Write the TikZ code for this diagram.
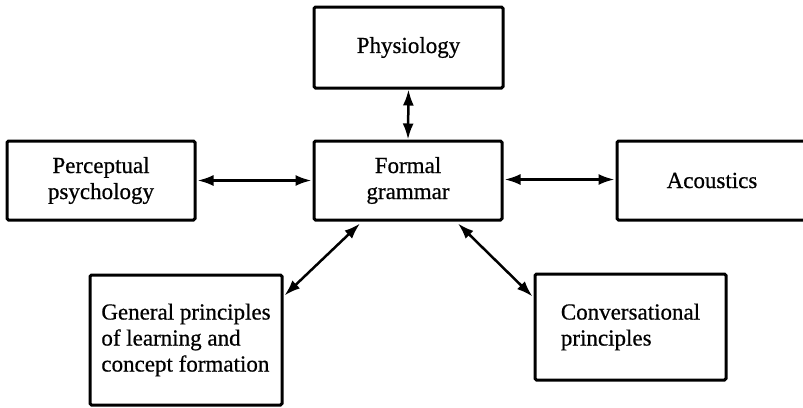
\documentclass[tikz,border=0pt]{standalone}
\usepackage{fontspec}
\setmainfont{Liberation Serif}[FakeBold=0.6]
\usetikzlibrary{arrows.meta,calc}

\tikzset{
  topic/.style={draw=black, line width=3pt, rounded corners=1.5pt,
    inner sep=0pt, fill=white,
    font=\fontsize{23}{26}\selectfont},
  link/.style={line width=2.5pt, {Latex[length=16pt,width=11pt]}-{Latex[length=16pt,width=11pt]}}
}

\begin{document}
\begin{tikzpicture}[x=1pt, y=-1pt]
  \clip (0,0) rectangle (803,407);
  \fill[white] (0,0) rectangle (803,407);

  % boxes
  \node[topic, minimum width=189pt, minimum height=81pt] (phys) at (408.5,47.5) {Physiology};
  \node[topic, minimum width=188pt, minimum height=79pt, align=center] (formal) at (408,180.5) {Formal\\grammar};
  \node[topic, minimum width=188pt, minimum height=79pt, align=center] (percep) at (101,180.5) {Perceptual\\psychology};
  \node[topic, minimum width=190pt, minimum height=79pt] (acoust) at (712,180.5) {Acoustics};
  \node[topic, minimum width=192pt, minimum height=130pt, align=left] (gen) at (186,340) {General principles\\of learning and\\concept formation};
  \node[topic, minimum width=191pt, minimum height=106pt, align=left] (conv) at (630.5,327) {Conversational\\principles};

  % connectors
  \draw[link] (phys.south) -- (formal.north);
  \draw[link] ($(percep.east)+(1,0)$) -- ($(formal.west)+(-1,0)$);
  \draw[link] ($(formal.east)+(1,-1)$) -- ($(acoust.west)+(-1,-1)$);
  \draw[link] ($(formal.south)+(-48,2)$) -- ($(gen.north east)+(1,22)$);
  \draw[link] ($(formal.south)+(50,2)$) -- ($(conv.north west)+(-1,24)$);
\end{tikzpicture}
\end{document}
